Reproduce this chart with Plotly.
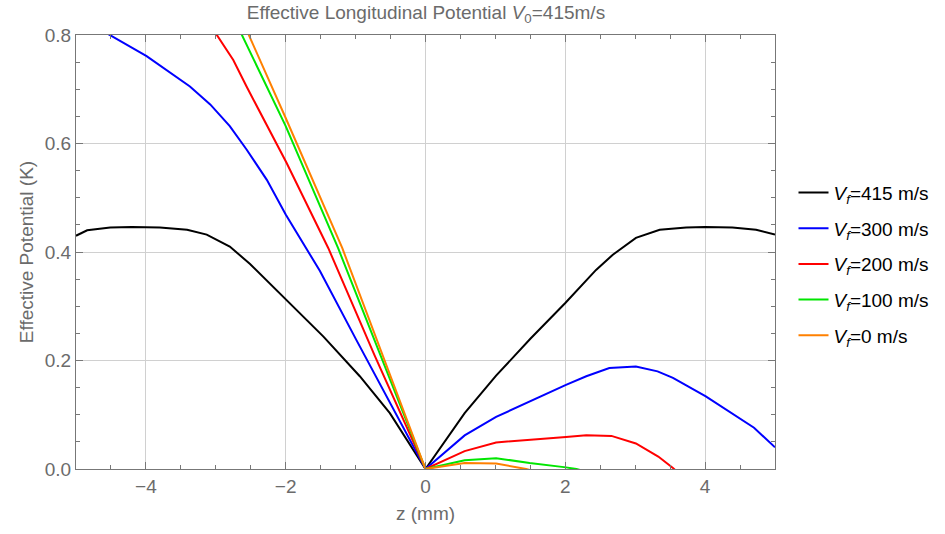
import plotly.graph_objects as go

# ---- data ----
z_415 = [-5.0, -4.84, -4.51, -4.2, -3.8, -3.41, -3.13, -2.8, -2.51, -1.99, -1.46, -0.94, -0.51, 0.0,
         0.56, 1.01, 1.5, 2.0, 2.44, 2.68, 3.01, 3.35, 3.73, 4.0, 4.39, 4.73, 5.0]
v_415 = [0.430, 0.440, 0.445, 0.446, 0.445, 0.441, 0.432, 0.410, 0.378, 0.312, 0.244, 0.171, 0.103, 0.0,
         0.103, 0.172, 0.240, 0.306, 0.367, 0.395, 0.426, 0.441, 0.445, 0.446, 0.445, 0.441, 0.432]

z_300 = [-4.8, -4.53, -3.99, -3.61, -3.37, -3.08, -2.80, -2.56, -2.27, -2.0, -1.51, -0.99, 0.0,
         0.56, 1.01, 2.01, 2.30, 2.63, 3.01, 3.32, 3.54, 4.01, 4.70, 5.0]
v_300 = [0.835, 0.801, 0.761, 0.727, 0.705, 0.672, 0.632, 0.589, 0.533, 0.469, 0.365, 0.238, 0.0,
         0.062, 0.096, 0.155, 0.171, 0.186, 0.189, 0.180, 0.168, 0.134, 0.076, 0.040]

z_200 = [-3.2, -2.99, -2.75, -2.56, -1.99, -1.39, -0.73, 0.0,
         0.56, 1.01, 2.01, 2.30, 2.66, 3.01, 3.33, 3.54, 3.8]
v_200 = [0.84, 0.801, 0.754, 0.705, 0.565, 0.407, 0.210, 0.0,
         0.033, 0.049, 0.059, 0.062, 0.061, 0.047, 0.023, 0.002, -0.03]

z_100 = [-2.8, -2.63, -2.0, -1.25, 0.0, 0.56, 1.01, 1.49, 2.01, 2.16, 2.5]
v_100 = [0.85, 0.801, 0.632, 0.407, 0.0, 0.016, 0.020, 0.011, 0.003, 0.0, -0.012]

z_0 = [-2.7, -2.53, -2.0, -1.19, 0.0, 0.56, 1.01, 1.44, 2.0]
v_0 = [0.85, 0.801, 0.647, 0.407, 0.0, 0.011, 0.010, 0.0, -0.02]

series_names = ["415", "300", "200", "100", "0"]
series_z = [z_415, z_300, z_200, z_100, z_0]
series_v = [v_415, v_300, v_200, v_100, v_0]
colors = ["#000000", "#0000ff", "#ff0000", "#00e600", "#ff8000"]

x_ticks = [-4, -2, 0, 2, 4]
y_ticks = [0.0, 0.2, 0.4, 0.6, 0.8]

FONT = "Liberation Sans, Arial, sans-serif"
GRAY = "#6b6b6b"
FS = 19

fig = go.Figure()
for name, zz, vv, c in zip(series_names, series_z, series_v, colors):
    fig.add_trace(go.Scatter(
        x=zz, y=vv, mode="lines",
        name=f"<i>V</i><sub><i>f</i></sub>={name} m/s",
        legendgroup=name,
        line=dict(color=c, width=2),
    ))

axis_common = dict(
    showline=True, linecolor="#777777", linewidth=1, mirror="allticks",
    ticks="inside", ticklen=7, tickcolor="#777777", tickwidth=1,
    showgrid=True, gridcolor="#d0d0d0", gridwidth=1,
    zeroline=False,
    tickfont=dict(family=FONT, size=FS, color=GRAY),
)

fig.update_layout(
    width=945, height=534,
    margin=dict(l=76, r=169, t=35, b=65),
    paper_bgcolor="white", plot_bgcolor="white",
    title=dict(
        text="Effective Longitudinal Potential <i>V</i><sub>0</sub>=415m/s",
        x=(76 + 776) / 2 / 945, xanchor="center", y=1 - 12 / 534, yanchor="middle",
        font=dict(family=FONT, size=FS, color=GRAY),
    ),
    xaxis=dict(
        range=[-5, 5], tickvals=x_ticks,
        title=dict(text="z (mm)", font=dict(family=FONT, size=FS, color=GRAY), standoff=10),
        minor=dict(dtick=0.5, ticks="inside", ticklen=4, tickcolor="#777777", showgrid=False),
        **axis_common,
    ),
    yaxis=dict(
        range=[0, 0.8], tickvals=y_ticks, tickformat=".1f",
        title=dict(text="Effective Potential (K)", font=dict(family=FONT, size=FS, color=GRAY), standoff=6),
        minor=dict(dtick=0.05, ticks="inside", ticklen=4, tickcolor="#777777", showgrid=False),
        **axis_common,
    ),
    legend=dict(
        x=1.025, xanchor="left", y=0.472, yanchor="middle",
        font=dict(family=FONT, size=FS, color="#000000"),
        bgcolor="rgba(0,0,0,0)", tracegroupgap=8, itemwidth=30,
    ),
    showlegend=True,
)

fig.write_html("out.html")
